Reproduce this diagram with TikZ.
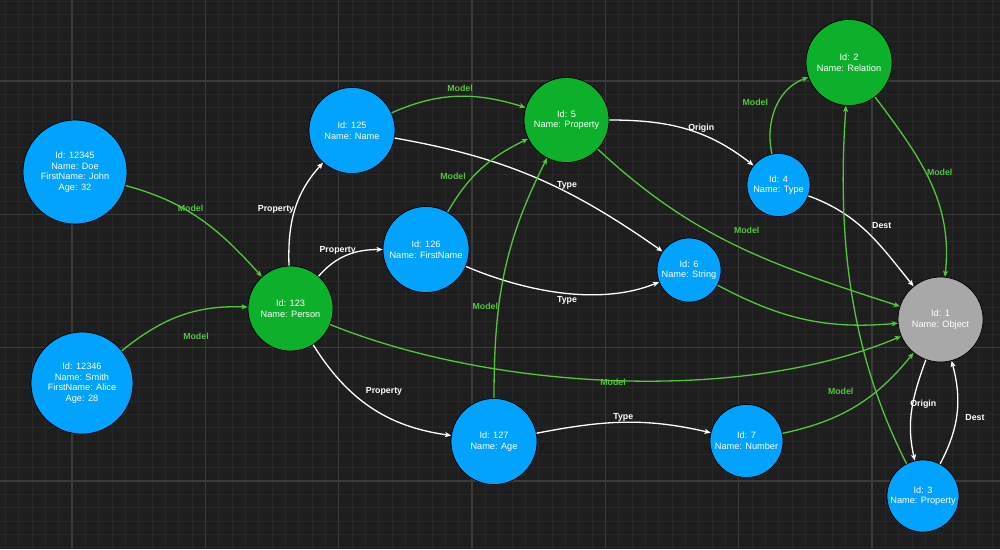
\documentclass[tikz,border=0pt]{standalone}
\usepackage{fontspec}
\setmainfont{Liberation Sans}
\usetikzlibrary{arrows.meta}
\definecolor{bgc}{HTML}{1E1E1E}
\definecolor{gminor}{HTML}{282828}
\definecolor{gmajor}{HTML}{3A3A3A}
\definecolor{nblue}{HTML}{00A3FF}
\definecolor{ngreen}{HTML}{0DB02B}
\definecolor{ngrey}{HTML}{A8A8A8}
\definecolor{egreen}{HTML}{55C43E}
\begin{document}
\begin{tikzpicture}[x=1pt,y=1pt,
  ent/.style={circle, draw=black, line width=0.7pt, inner sep=0pt, text=white, align=center,
    font=\fontsize{9.2}{10.6}\selectfont},
  bluen/.style={ent, fill=nblue},
  greenn/.style={ent, fill=ngreen},
  greyn/.style={ent, fill=ngrey},
  rel/.style={line width=1.3pt, -{Stealth[length=6pt,width=5pt,inset=1.3pt]}},
  modl/.style={rel, draw=egreen},
  wrel/.style={rel, draw=white},
  lbl/.style={inner sep=0pt, font=\bfseries\fontsize{8.8}{10}\selectfont},
  lblg/.style={lbl, text=egreen},
  lblw/.style={lbl, text=white},
]
\useasboundingbox (0,0) rectangle (1000,-549);
\fill[bgc] (0,0) rectangle (1000,-549);
\foreach \i in {0,...,75} {\draw[gminor, line width=0.8pt] ({5.33+13.333*\i},0) -- ({5.33+13.333*\i},-549);}
\foreach \j in {0,...,41} {\draw[gminor, line width=0.8pt] (0,{-1-13.333*\j}) -- (1000,{-1-13.333*\j});}
\foreach \i in {0,...,6} {\draw[gmajor, line width=1.2pt] ({72+133.333*\i},0) -- ({72+133.333*\i},-549);}
\foreach \j in {0,...,3} {\draw[gmajor, line width=1.2pt] (0,{-81-133.333*\j}) -- (1000,{-81-133.333*\j});}

% nodes
\node[bluen, minimum size=104pt] (n12345) at (75,-172) {Id: 12345\\Name: Doe\\FirstName: John\\Age: 32};
\node[bluen, minimum size=102pt] (n12346) at (82,-383) {Id: 12346\\Name: Smith\\FirstName: Alice\\Age: 28};
\node[greenn, minimum size=85pt] (n123) at (290.5,-308.5) {Id: 123\\Name: Person};
\node[bluen, minimum size=86pt] (n125) at (352,-130.5) {Id: 125\\Name: Name};
\node[bluen, minimum size=86pt] (n126) at (426,-249.5) {Id: 126\\Name: FirstName};
\node[greenn, minimum size=85pt] (n5) at (566.5,-120) {Id: 5\\Name: Property};
\node[greenn, minimum size=86pt] (n2) at (849,-62.5) {Id: 2\\Name: Relation};
\node[bluen, minimum size=63pt] (n4) at (778.5,-185) {Id: 4\\Name: Type};
\node[bluen, minimum size=64pt] (n6) at (689,-270) {Id: 6\\Name: String};
\node[greyn, minimum size=85pt] (n1) at (940.5,-319.5) {Id: 1\\Name: Object};
\node[bluen, minimum size=72pt] (n3) at (923,-496) {Id: 3\\Name: Property};
\node[bluen, minimum size=86pt] (n127) at (494,-441.5) {Id: 127\\Name: Age};
\node[bluen, minimum size=73pt] (n7) at (746.5,-441) {Id: 7\\Name: Number};

% connectors
\draw[modl] (n12345) to[out=-15,in=132] (n123);
\draw[modl] (n12346) to[out=39,in=178] (n123);
\draw[wrel] (n123) to[out=92,in=228] (n125);
\draw[wrel] (n123) to[out=49,in=180] (n126);
\draw[wrel] (n123) to[out=-58,in=172] (n127);
\draw[modl] (n123) to[out=-22,in=203,looseness=0.78] (n1);
\draw[modl] (n125) to[out=24,in=163] (n5);
\draw[wrel] (n125) to[out=-10,in=145] (n6);
\draw[modl] (n126) to[out=60,in=206] (n5);
\draw[wrel] (n126) to[out=-23,in=202,looseness=0.85] (n6);
\draw[modl] (n127) to[out=90,in=243] (n5);
\draw[wrel] (n127) to[out=11,in=167] (n7);
\draw[wrel] (n5) to[out=0,in=142] (n4);
\draw[modl] (n5) to[out=-43,in=162] (n1);
\draw[modl] (n4) to[out=102,in=200] (n2);
\draw[wrel] (n4) to[out=-20,in=129] (n1);
\draw[modl] (n2) to[out=-53,in=84] (n1);
\draw[modl] (n6) to[out=-28,in=185] (n1);
\draw[modl] (n7) to[out=12,in=231] (n1);
\draw[modl] (n3) to[out=117,in=266,looseness=0.9] (n2);
\draw[wrel] (n1) to[out=-110,in=103] (n3);
\draw[wrel] (n3) to[out=62,in=-75] (n1);

% labels
\node[lblg] (l1) at (190.5,-208.7) {Model};
\node[lblg] (l2) at (196,-336.7) {Model};
\node[lblw] (l3) at (276,-209) {Property};
\node[lblw] (l4) at (337.7,-250) {Property};
\node[lblw] (l5) at (384,-391.7) {Property};
\node[lblg] (l6) at (613,-382.3) {Model};
\node[lblg] (l7) at (460,-88) {Model};
\node[lblw] (l8) at (567,-185.3) {Type};
\node[lblg] (l9) at (453,-176.7) {Model};
\node[lblw] (l10) at (567,-300.7) {Type};
\node[lblg] (l11) at (485.3,-306.7) {Model};
\node[lblw] (l12) at (623.3,-417.3) {Type};
\node[lblw] (l13) at (701.2,-128.3) {Origin};
\node[lblg] (l14) at (746.7,-230) {Model};
\node[lblg] (l15) at (755.3,-102.7) {Model};
\node[lblw] (l16) at (881.7,-225.7) {Dest};
\node[lblg] (l17) at (939.7,-172.7) {Model};
\node[lblg] (l19) at (840.7,-391.7) {Model};
\node[lblw] (l21) at (923.3,-404) {Origin};
\node[lblw] (l22) at (975,-417.3) {Dest};
\end{tikzpicture}
\end{document}
